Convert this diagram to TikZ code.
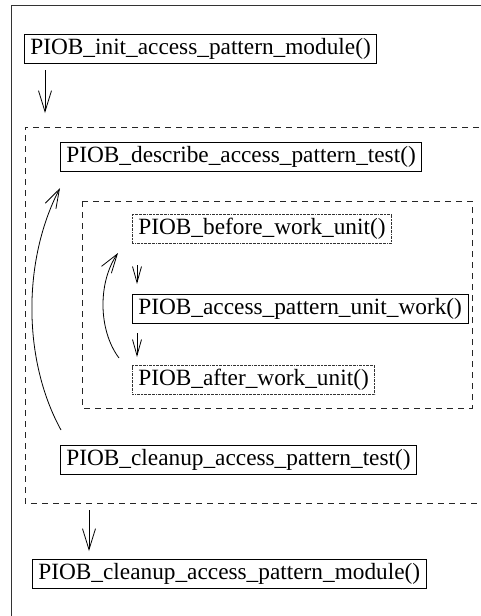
\documentclass[tikz,border=0pt]{standalone}
\usepackage{fontspec}
\setmainfont{Liberation Serif}
\usetikzlibrary{arrows.meta}
\begin{document}
\begin{tikzpicture}[x=1pt,y=-1pt,
  fn/.style={draw, line width=0.8pt, anchor=west, inner xsep=6pt, inner ysep=0pt,
    minimum height=29pt, text height=16.5pt, text depth=5pt,
    font=\fontsize{23.3}{28}\selectfont},
  fnloose/.style={fn, draw=black!80, dash pattern=on 2pt off 0.8pt on 0.6pt off 0.8pt},
  region/.style={draw=black!85, line width=0.8pt, dash pattern=on 6pt off 5pt},
  flow/.style={line width=0.8pt, -{Straight Barb[length=21pt,width=13pt,line width=0.8pt]}},
  shortflow/.style={line width=0.8pt, -{Straight Barb[length=16pt,width=9pt,line width=0.8pt]}},
  loopflow/.style={line width=0.8pt, -{Straight Barb[length=19pt,width=12pt,line width=0.8pt]}}]
  \useasboundingbox (0,0) rectangle (480,616);
  % outer frame
  \draw[line width=1pt, black!80] (11,630) -- (11,5) -- (490,5);
  % nested loop regions
  \draw[region] (490,127) -- (25,127) -- (25,503) -- (490,503);
  \draw[region] (82,201) rectangle (472,408);
  % function calls
  \node[fn] (init) at (24,48.5) {PIOB\_init\_access\_pattern\_module()};
  \node[fn] (describe) at (60,157) {PIOB\_describe\_access\_pattern\_test()};
  \node[fnloose] (before) at (132,228.5) {PIOB\_before\_work\_unit()};
  \node[fn] (unit) at (132,309) {PIOB\_access\_pattern\_unit\_work()};
  \node[fnloose] (after) at (132,380) {PIOB\_after\_work\_unit()};
  \node[fn] (cleantest) at (60,459.5) {PIOB\_cleanup\_access\_pattern\_test()};
  \node[fn] (cleanmod) at (32,573.5) {PIOB\_cleanup\_access\_pattern\_module()};
  % arrow end points
  \coordinate (a1) at (45,70);   \coordinate (a2) at (45,113);
  \coordinate (b1) at (137,265); \coordinate (b2) at (137,284);
  \coordinate (c1) at (137,333); \coordinate (c2) at (137,357);
  \coordinate (d1) at (89,510);  \coordinate (d2) at (89,551);
  \coordinate (s1) at (119,358); \coordinate (s2) at (118,253);
  \coordinate (g1) at (61,430);  \coordinate (g2) at (60,188);
  % connectors
  \draw[flow] (a1) -- (a2);
  \draw[shortflow] (b1) -- (b2);
  \draw[shortflow] (c1) -- (c2);
  \draw[flow] (d1) -- (d2);
  \draw[loopflow] (s1) .. controls (98,330) and (98,282) .. (s2);
  \draw[loopflow] (g1) .. controls (22.5,360) and (22.5,260) .. (g2);
\end{tikzpicture}
\end{document}
